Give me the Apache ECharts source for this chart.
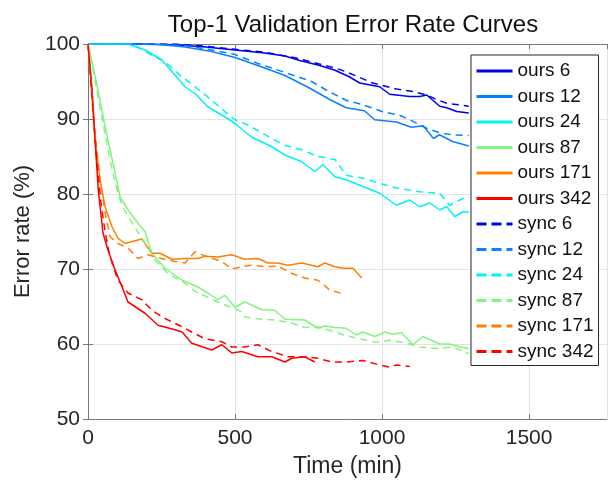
<!DOCTYPE html>
<html><head><meta charset="utf-8">
<script src="https://cdn.jsdelivr.net/npm/echarts@6/dist/echarts.min.js"></script>
<style>html,body{margin:0;padding:0;background:#fff}#c{width:610px;height:485px}</style>
</head><body><div id="c"></div>
<script>
// ---- data: [time (min), error rate (%)] ----
var ours6 = [[0,100],[100,100],[200,100],[300,99.9],[400,99.6],[500,99.2],[600,98.8],[670,98.4],[720,97.8],[782,97.2],[840,96.5],[890,95.6],[924,94.8],[992,94.3],[1026,93.3],[1094,93.0],[1128,93.0],[1152,93.2],[1196,91.7],[1220,91.5],[1254,91.0],[1295,90.8]];
var ours12 = [[0,100],[150,100],[250,99.9],[330,99.6],[420,99.0],[500,98.2],[580,97.1],[670,95.8],[750,94.2],[822,92.6],[878,91.5],[940,91.1],[975,89.9],[1049,89.6],[1100,88.9],[1140,89.1],[1175,87.4],[1195,87.9],[1240,87.0],[1295,86.4]];
var ours24 = [[0,100],[136,100],[194,99.2],[250,97.9],[286,96.3],[330,94.3],[364,93.4],[408,91.6],[465,90.3],[500,89.4],[556,87.6],[625,86.3],[670,85.2],[727,84.3],[771,83.0],[799,83.9],[840,82.3],[878,81.9],[935,81.0],[992,80.1],[1049,78.5],[1094,79.2],[1128,78.3],[1162,78.8],[1196,77.9],[1220,78.3],[1247,77.0],[1274,77.6],[1295,77.6]];
var ours87 = [[0,100],[14,97.5],[28,95],[41,92.5],[58,89],[75,85.9],[92,82.8],[109,79.6],[136,77.9],[170,76.1],[194,75.0],[217,72.1],[262,70.1],[320,68.5],[374,67.6],[408,66.8],[442,65.9],[465,66.5],[500,64.9],[533,65.6],[590,64.6],[635,64.5],[670,63.3],[737,63.2],[782,62.1],[805,62.4],[840,62.2],[878,62.1],[912,61.2],[935,61.6],[975,61.0],[1009,61.6],[1037,61.3],[1066,61.5],[1105,59.9],[1139,61.0],[1196,60.0],[1230,60.0],[1264,59.6],[1295,59.4]];
var ours171 = [[0,100],[10,95],[24,87.2],[41,81.9],[58,78.3],[82,75.6],[102,74.1],[126,73.4],[183,74.0],[217,72.1],[245,72.1],[285,71.3],[330,71.4],[374,71.4],[397,71.7],[442,71.6],[489,71.9],[533,71.3],[578,71.4],[612,70.8],[646,70.8],[680,70.5],[727,70.8],[782,70.3],[805,70.8],[840,70.3],[867,70.1],[901,70.1],[931,68.8]];
var ours342 = [[0,100],[7,97],[14,93.9],[24,87.2],[35,80.5],[51,74.8],[68,72.5],[92,69.9],[115,67.7],[136,65.6],[194,64.1],[238,62.5],[296,61.9],[320,61.6],[353,60.1],[421,59.2],[455,59.9],[489,58.8],[523,59.0],[578,58.3],[625,58.3],[670,57.6],[693,58.1],[737,58.3],[771,57.6]];
var sync6 = [[0,100],[150,100],[300,100],[400,99.7],[500,99.3],[600,98.9],[700,98.2],[780,97.4],[840,96.8],[878,96.3],[968,94.8],[1049,94.0],[1100,93.7],[1152,93.2],[1185,92.6],[1220,92.1],[1260,91.9],[1295,91.7]];
var sync12 = [[0,100],[200,100],[330,99.8],[420,99.2],[500,98.6],[578,97.4],[670,96.2],[760,95.0],[822,93.6],[878,92.5],[935,91.9],[1000,91.0],[1060,90.5],[1094,89.9],[1150,88.8],[1200,88.1],[1240,87.9],[1295,87.8]];
var sync24 = [[0,100],[150,100],[217,98.5],[262,97.6],[320,95.6],[364,94.3],[421,92.5],[465,91.0],[500,89.9],[544,89.2],[625,87.4],[670,86.5],[727,85.9],[782,85.0],[840,84.6],[878,82.5],[935,82.1],[992,81.4],[1049,80.8],[1128,80.3],[1196,80.1],[1230,78.5],[1264,79.2],[1295,79.7]];
var sync87 = [[0,100],[20,96],[41,91.5],[58,88],[75,84.5],[92,81.5],[115,78.5],[136,77],[160,75.5],[194,73.5],[228,71.2],[272,69.4],[330,68.1],[364,67.0],[442,65.6],[523,64.3],[533,63.6],[590,63.3],[635,63.2],[693,62.8],[737,62.2],[782,62.3],[840,61.6],[878,61.1],[981,60.2],[1026,60.5],[1083,60.1],[1128,59.6],[1185,59.4],[1241,59.6],[1295,58.7]];
var sync171 = [[0,100],[12,94],[24,88],[41,82],[58,77.5],[75,74.3],[102,73.4],[136,72.8],[170,71.4],[204,71.9],[250,71.4],[296,71.0],[330,70.8],[364,72.3],[408,71.6],[455,71.0],[489,70.0],[523,70.3],[556,70.5],[601,70.3],[646,70.4],[693,69.4],[737,68.8],[782,68.5],[822,67.2],[867,66.7]];
var sync342 = [[0,100],[10,95],[20,89.5],[30,84.5],[45,78.5],[58,75],[70,72.5],[82,70.8],[102,68.5],[136,66.8],[183,65.9],[217,64.5],[262,63.4],[320,62.3],[353,61.6],[397,60.7],[455,60.3],[489,59.6],[533,59.6],[578,59.9],[625,59.0],[680,58.3],[737,58.3],[782,58.1],[829,57.6],[878,57.6],[935,57.8],[992,57.2],[1026,56.9],[1049,57.2],[1094,57.0]];

var seriesNames = ['ours 6','ours 12','ours 24','ours 87','ours 171','ours 342','sync 6','sync 12','sync 24','sync 87','sync 171','sync 342'];
var seriesData = [ours6, ours12, ours24, ours87, ours171, ours342, sync6, sync12, sync24, sync87, sync171, sync342];
var palette = ['#0000f0','#0a80ff','#00f2f2','#80f580','#ff8000','#ff0000'];
var xTicks = [0, 500, 1000, 1500];
var yTicks = [50, 60, 70, 80, 90, 100];

var FONT = '"Liberation Sans", Arial, Helvetica, sans-serif';
var chart = echarts.init(document.getElementById('c'), null, {renderer: 'canvas'});

var series = seriesNames.map(function (n, i) {
  var dashed = i >= 6;
  return {
    name: n, type: 'line', data: seriesData[i], xAxisIndex: 0, yAxisIndex: 0,
    symbol: 'none', showSymbol: false, smooth: false, clip: true,
    lineStyle: {color: palette[i % 6], width: 1.5, type: dashed ? [7, 5] : 'solid'},
    itemStyle: {color: palette[i % 6]},
    emphasis: {disabled: true}
  };
});

var axisCommon = {
  axisLine: {show: true, lineStyle: {color: '#777', width: 1}},
  axisTick: {show: true, inside: true, length: 5, lineStyle: {color: '#777'}}
};

chart.setOption({
  animation: false,
  backgroundColor: '#fff',
  title: {
    text: 'Top-1 Validation Error Rate Curves', left: 348, top: 8, textAlign: 'center',
    textStyle: {fontFamily: FONT, fontSize: 24, fontWeight: 'normal', color: '#111'}
  },
  grid: {left: 88, right: 3, top: 44, bottom: 66, containLabel: false},
  legend: {
    orient: 'vertical', left: 471, top: 55,
    itemWidth: 36, itemHeight: 20, itemGap: 5.5,
    padding: [6, 5, 4, 4],
    backgroundColor: '#fff', borderColor: '#262626', borderWidth: 1, borderRadius: 0,
    textStyle: {fontFamily: FONT, fontSize: 19, color: '#111', lineHeight: 20},
    itemStyle: {opacity: 0},
    lineStyle: {width: 3},
    data: seriesNames.map(function (n, i) {
      return {name: n, itemStyle: {opacity: 0}, lineStyle: {width: 3, type: i >= 6 ? [10, 5] : 'solid'}};
    }),
    selectedMode: false
  },
  xAxis: [
    Object.assign({
      type: 'value', min: xTicks[0], max: 1765, interval: xTicks[1] - xTicks[0], position: 'bottom',
      name: 'Time (min)', nameLocation: 'middle', nameGap: 36,
      nameTextStyle: {fontFamily: FONT, fontSize: 23, color: '#262626'},
      axisLabel: {fontFamily: FONT, fontSize: 21, color: '#262626', margin: 9, showMaxLabel: false,
        formatter: function (v) { return String(v); }},
      splitLine: {show: true, lineStyle: {color: '#e3e3e3', width: 1}}
    }, axisCommon),
    Object.assign({
      type: 'value', min: xTicks[0], max: 1765, interval: xTicks[1] - xTicks[0], position: 'top',
      axisLabel: {show: false}, splitLine: {show: false}
    }, axisCommon)
  ],
  yAxis: [
    Object.assign({
      type: 'value', min: yTicks[0], max: yTicks[yTicks.length - 1], interval: yTicks[1] - yTicks[0], position: 'left',
      name: 'Error rate (%)', nameLocation: 'middle', nameGap: 49,
      nameTextStyle: {fontFamily: FONT, fontSize: 22, color: '#262626'},
      axisLabel: {fontFamily: FONT, fontSize: 21, color: '#262626', margin: 8},
      splitLine: {show: true, lineStyle: {color: '#e3e3e3', width: 1}}
    }, axisCommon),
    Object.assign({
      type: 'value', min: yTicks[0], max: yTicks[yTicks.length - 1], interval: yTicks[1] - yTicks[0], position: 'right',
      axisLabel: {show: false}, splitLine: {show: false}
    }, axisCommon)
  ],
  series: series
});
</script></body></html>
